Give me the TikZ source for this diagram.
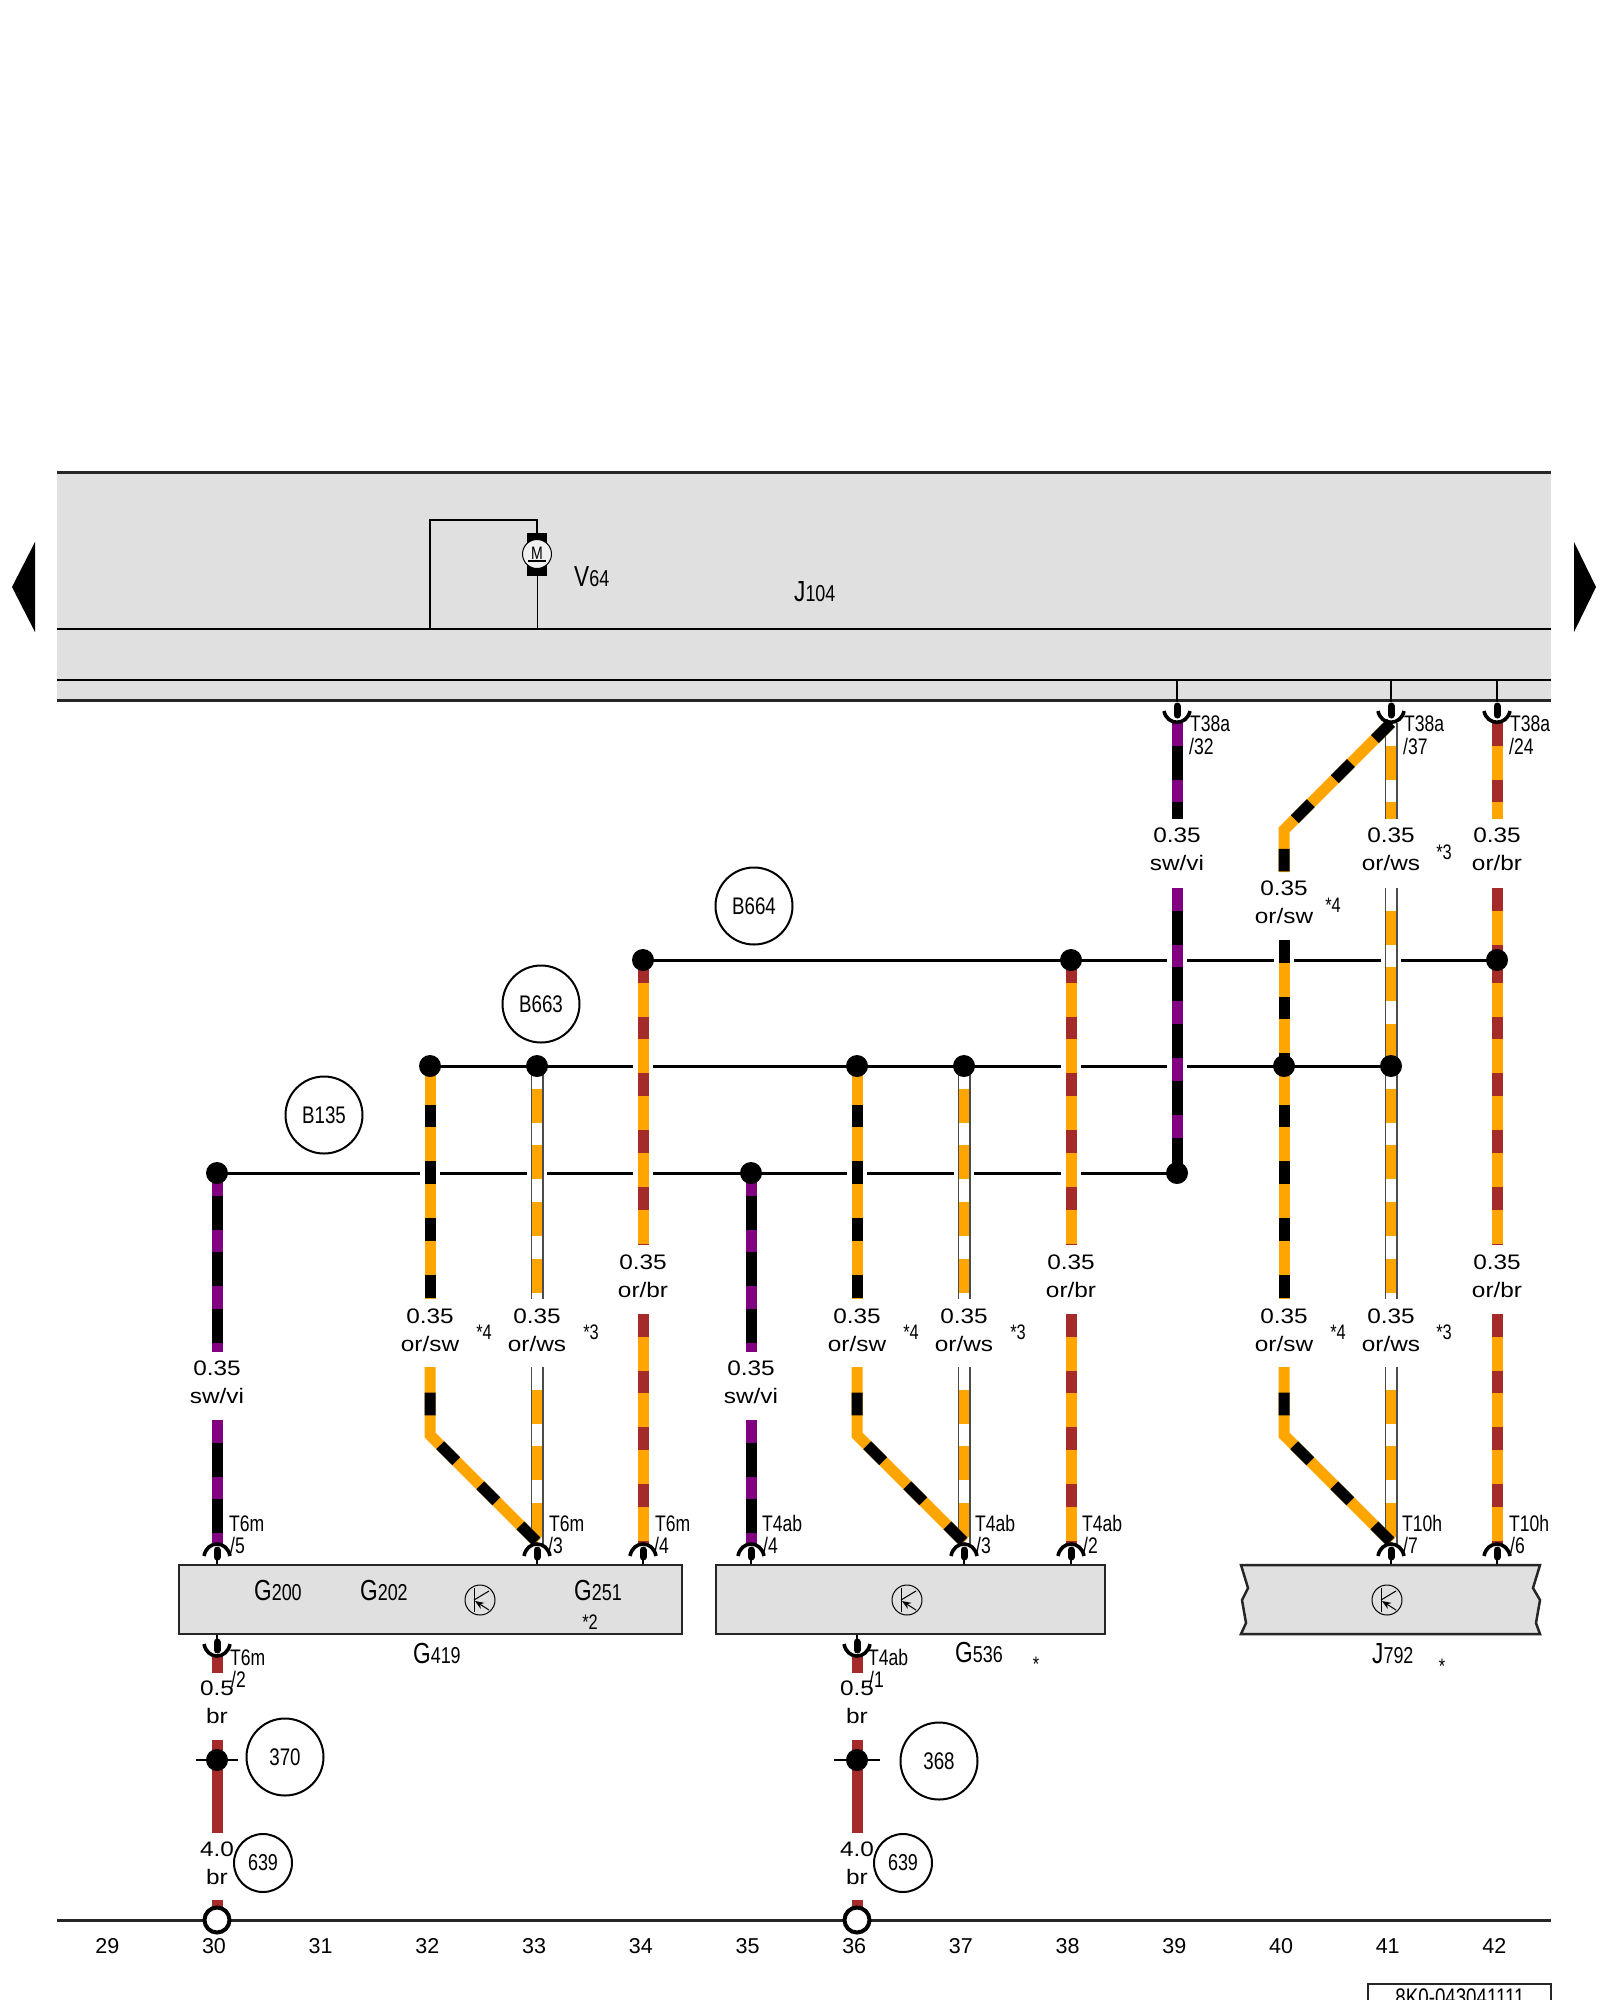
\documentclass[tikz,border=0pt]{standalone}
\usepackage{fontspec}
\setmainfont{Liberation Sans}
\newfontfamily\nf[FakeStretch=0.78]{Liberation Sans}
\newfontfamily\wf[FakeStretch=1.16]{Liberation Sans}
\usetikzlibrary{arrows.meta}
\definecolor{orw}{HTML}{FFA500}
\definecolor{brw}{HTML}{A52A2A}
\definecolor{viw}{HTML}{800080}
\definecolor{grf}{HTML}{E0E0E0}
\newcommand{\fs}[1]{\fontsize{#1}{#1}\selectfont}
% striped wire: path, main colour, stripe colour, phase
\newcommand{\wire}[4]{%
  \draw[line width=11pt,#2,line join=miter] #1;
  \draw[line width=11pt,#3,line join=miter,dash pattern=on 22.7pt off 34pt,dash phase=#4pt] #1;}
% orange/white wire with thin outline
\newcommand{\wireW}[1]{%
  \draw[line width=13pt,black!70] #1;
  \draw[line width=10.8pt,white] #1;
  \draw[line width=10.8pt,orw,dash pattern=on 34pt off 22.7pt,dash phase=-22.7pt] #1;}
\newcommand{\gap}[2]{\fill[white] (#1-10,#2-3) rectangle (#1+10,#2+3);}
% socket under the top frame
\newcommand{\sockT}[1]{%
  \draw[line width=1.5pt] (#1,680) -- (#1,702);
  \draw[line width=7pt,line cap=round] (#1,706) -- (#1,715);
  \draw[line width=3.6pt] (#1-13,711) .. controls (#1-10,726) and (#1+10,726) .. (#1+13,711);}
% socket on the top edge of a box
\newcommand{\sockB}[1]{%
  \draw[line width=2.5pt] (#1,1565) -- (#1,1555);
  \draw[line width=7pt,line cap=round] (#1,1557) -- (#1,1550);
  \draw[line width=3.6pt] (#1-13,1556) .. controls (#1-10,1540) and (#1+10,1540) .. (#1+13,1556);}
% socket on the lower edge of a box
\newcommand{\sockU}[1]{%
  \draw[line width=2.5pt] (#1,1634) -- (#1,1642);
  \draw[line width=7pt,line cap=round] (#1,1642) -- (#1,1650);
  \draw[line width=3.6pt] (#1-13,1644) .. controls (#1-10,1660) and (#1+10,1660) .. (#1+13,1644);}
\newcommand{\tran}[1]{%
  \begin{scope}[shift={(#1,1600)}]
    \draw[line width=1pt] (0,0) circle (15);
    \draw[line width=1pt] (-6,-12) -- (-6,12);
    \draw[line width=1pt] (-6,0) -- (9,-9);
    \draw[line width=1pt,{Stealth[length=9pt,width=7pt]}-] (-5,1) -- (9,10);
  \end{scope}}
\newcommand{\GL}[2]{{\nf\fs{29}#1\fs{23}#2}}
\tikzset{
  bus/.style={line width=3pt},
  junc/.style={circle,fill=black,inner sep=0pt,minimum size=22pt},
  opn/.style={circle,draw=black,fill=white,line width=4pt,inner sep=0pt,minimum size=25pt},
  bub/.style={circle,draw=black,line width=2pt,inner sep=0pt,minimum size=77pt,font=\nf\fs{24}},
  bubs/.style={circle,draw=black,line width=2pt,inner sep=0pt,minimum size=58pt,font=\nf\fs{23}},
  tlab/.style={anchor=base west,inner sep=0pt,font=\nf\fs{22.5}},
  slab/.style={anchor=base,inner sep=0pt,font=\nf\fs{21}},
  wlab/.style={anchor=base,inner sep=0pt,font=\wf\fs{21}},
  glab/.style={anchor=base west,inner sep=0pt},
  nlab/.style={anchor=base,inner sep=0pt,font=\fs{21.5}},
  cbox/.style={draw=black!85,fill=grf,line width=2.5pt,inner sep=0pt},
}
\begin{document}
\begin{tikzpicture}[x=1pt,y=-1pt]
\useasboundingbox (0,0) rectangle (1600,2000);
\clip (0,0) rectangle (1600,2000);

% top frame
\fill[grf] (57,472) rectangle (1551,700);
\draw[line width=3pt,black!85] (57,472) -- (1551,472);
\draw[line width=3pt,black!85] (57,700) -- (1551,700);
\draw[line width=2pt] (57,629) -- (1551,629);
\draw[line width=2pt] (57,680) -- (1551,680);

% page arrows
\fill (35,542) -- (12,587) -- (35,632) -- cycle;
\fill (1574,542) -- (1596,587) -- (1574,632) -- cycle;

% motor
\coordinate (mb) at (537,629);
\coordinate (mt) at (537,520);
\coordinate (ml) at (430,520);
\coordinate (mc) at (430,629);
\node[fill=black,minimum width=20pt,minimum height=43pt,inner sep=0pt] (mbody) at (537,554.5) {};
\node[circle,draw=black,line width=1pt,fill=black!6,minimum size=29pt,inner sep=0pt,font=\nf\fs{18}] (motor) at (537,554) {\raisebox{1.5pt}{M}};
\draw[line width=1.2pt] (528,561) -- (546,561);
\draw[line width=1pt] (mb) -- (mbody.south);
\draw[line width=1.2pt] (mc) -- (ml) -- (mt) -- (mbody.north);
\node[glab] (v64) at (574,586) {\GL{V}{64}};
\node[glab] (j104) at (794,601) {\GL{J}{104}};

% junction positions
\coordinate (jl30) at (217,1173);
\coordinate (jl35) at (751,1173);
\coordinate (jl39) at (1177,1173);
\coordinate (jm32) at (430,1066);
\coordinate (jm33) at (537,1066);
\coordinate (jm36) at (857,1066);
\coordinate (jm37) at (964,1066);
\coordinate (jm40) at (1284,1066);
\coordinate (jm41) at (1391,1066);
\coordinate (ju34) at (643,960);
\coordinate (ju38) at (1071,960);
\coordinate (ju42) at (1497,960);

% buses
\draw[bus] (jl30) -- (jl39);
\draw[bus] (jm32) -- (jm41);
\draw[bus] (ju34) -- (ju42);
\gap{430}{1173}\gap{537}{1173}\gap{643}{1173}\gap{857}{1173}\gap{964}{1173}\gap{1071}{1173}
\gap{643}{1066}\gap{1071}{1066}\gap{1177}{1066}
\gap{1177}{960}\gap{1284}{960}\gap{1391}{960}

% wires, upper part
\wire{(1177,723) -- (1177,819)}{black}{viw}{0}
\wire{(1177,888) -- (jl39)}{black}{viw}{0}
\wireW{(1391,723) -- (1391,819)}
\wireW{(1391,888) -- (jm41)}
\wire{(1391,723) -- (1284,830) -- (1284,872)}{orw}{black}{0}
\wire{(1284,940) -- (jm40)}{orw}{black}{0}
\wire{(1497,723) -- (1497,819)}{orw}{brw}{0}
\wire{(1497,888) -- (ju42)}{orw}{brw}{0}
% wires from junctions
\wire{(jl30) -- (217,1352)}{black}{viw}{0}
\wire{(jm32) -- (430,1299)}{orw}{black}{18}
\wireW{(jm33) -- (537,1299)}
\wire{(ju34) -- (643,1245)}{orw}{brw}{0}
\wire{(jl35) -- (751,1352)}{black}{viw}{0}
\wire{(jm36) -- (857,1299)}{orw}{black}{18}
\wireW{(jm37) -- (964,1299)}
\wire{(ju38) -- (1071,1245)}{orw}{brw}{0}
\wire{(jm40) -- (1284,1299)}{orw}{black}{18}
\wireW{(jm41) -- (1391,1299)}
\wire{(ju42) -- (1497,1245)}{orw}{brw}{0}
% wires to the boxes
\wire{(217,1420) -- (217,1545)}{black}{viw}{0}
\wireW{(537,1367) -- (537,1545)}
\wire{(430,1367) -- (430,1435) -- (537,1542)}{orw}{black}{31}
\wire{(643,1314) -- (643,1545)}{orw}{brw}{0}
\wire{(751,1420) -- (751,1545)}{black}{viw}{0}
\wireW{(964,1367) -- (964,1545)}
\wire{(857,1367) -- (857,1435) -- (964,1542)}{orw}{black}{31}
\wire{(1071,1314) -- (1071,1545)}{orw}{brw}{0}
\wireW{(1391,1367) -- (1391,1545)}
\wire{(1284,1367) -- (1284,1435) -- (1391,1542)}{orw}{black}{31}
\wire{(1497,1314) -- (1497,1545)}{orw}{brw}{0}

% earth wires
\coordinate (g30) at (217,1920);
\coordinate (g36) at (857,1920);
\foreach \x in {217,857}{
  \draw[line width=11pt,brw] (\x,1656) -- (\x,1673);
  \draw[line width=11pt,brw] (\x,1740) -- (\x,1833);
  \draw[line width=11pt,brw] (\x,1900) -- (\x,1920);
}
\draw[line width=3pt,black!85] (57,1920) -- (1551,1920);

% junction dots
\foreach \n in {jl30,jl35,jl39,jm32,jm33,jm36,jm37,jm40,jm41,ju34,ju38,ju42}{
  \node[junc] (dot\n) at (\n) {};
}
\node[junc] (e30) at (217,1760) {};
\node[junc] (e36) at (857,1760) {};
\draw[line width=2.5pt] (196,1760) -- (238,1760);
\draw[line width=2.5pt] (834,1760) -- (880,1760);
\node[opn] (o30) at (g30) {};
\node[opn] (o36) at (g36) {};

% sockets
\sockT{1177}\sockT{1391}\sockT{1497}
\foreach \x in {217,537,643,751,964,1071,1391,1497}{\sockB{\x}}
\sockU{217}\sockU{857}

% boxes
\node[cbox,outer sep=0pt,minimum width=503pt,minimum height=69pt] (g419) at (430.5,1599.5) {};
\node[cbox,outer sep=0pt,minimum width=389pt,minimum height=69pt] (g536) at (910.5,1599.5) {};
\draw[cbox] (1241,1565) -- (1540,1565) -- (1533,1588) -- (1540,1600) -- (1536,1623) -- (1540,1634)
  -- (1241,1634) -- (1246,1623) -- (1242,1600) -- (1248,1588) -- cycle;
\tran{480}\tran{907}\tran{1387}
\node[glab] (g200) at (254,1600) {\GL{G}{200}};
\node[glab] (g202) at (360,1600) {\GL{G}{202}};
\node[glab] (g251) at (574,1600) {\GL{G}{251}};
\node[slab] (st2) at (590,1629) {*2};
\node[glab] (l419) at (413,1663) {\GL{G}{419}};
\node[glab] (l536) at (955,1662) {\GL{G}{536}};
\node[glab] (l792) at (1372,1663) {\GL{J}{792}};
\node[slab] (sta) at (1036,1671) {*};
\node[slab] (stb) at (1442,1673) {*};

% socket labels
\node[tlab] (t32) at (1190,731) {T38a};
\node[tlab] (p32) at (1189,754) {/32};
\node[tlab] (t37) at (1404,731) {T38a};
\node[tlab] (p37) at (1403,754) {/37};
\node[tlab] (t24) at (1510,731) {T38a};
\node[tlab] (p24) at (1509,754) {/24};
\node[tlab] (t5) at (229,1531) {T6m};
\node[tlab] (p5) at (230,1553) {/5};
\node[tlab] (t3) at (549,1531) {T6m};
\node[tlab] (p3) at (548,1553) {/3};
\node[tlab] (t4) at (655,1531) {T6m};
\node[tlab] (p4) at (654,1553) {/4};
\node[tlab] (u4) at (762,1531) {T4ab};
\node[tlab] (q4) at (763,1553) {/4};
\node[tlab] (u3) at (975,1531) {T4ab};
\node[tlab] (q3) at (976,1553) {/3};
\node[tlab] (u2) at (1082,1531) {T4ab};
\node[tlab] (q2) at (1083,1553) {/2};
\node[tlab] (h7) at (1402,1531) {T10h};
\node[tlab] (r7) at (1403,1553) {/7};
\node[tlab] (h6) at (1509,1531) {T10h};
\node[tlab] (r6) at (1510,1553) {/6};
\node[tlab] (t2) at (230,1665) {T6m};
\node[tlab] (p2) at (231,1687) {/2};
\node[tlab] (u1) at (868,1665) {T4ab};
\node[tlab] (q1) at (869,1687) {/1};

% wire labels
\foreach \id/\x/\y/\a/\b in {
  a/1177/842/0.35/sw\slash vi,
  b/1391/842/0.35/or\slash ws,
  c/1497/842/0.35/or\slash br,
  d/1284/895/0.35/or\slash sw,
  e/217/1375/0.35/sw\slash vi,
  f/430/1323/0.35/or\slash sw,
  g/537/1323/0.35/or\slash ws,
  h/643/1269/0.35/or\slash br,
  i/751/1375/0.35/sw\slash vi,
  j/857/1323/0.35/or\slash sw,
  k/964/1323/0.35/or\slash ws,
  m/1071/1269/0.35/or\slash br,
  n/1284/1323/0.35/or\slash sw,
  o/1391/1323/0.35/or\slash ws,
  p/1497/1269/0.35/or\slash br,
  q/217/1695/0.5/br,
  r/857/1695/0.5/br,
  s/217/1856/4.0/br,
  t/857/1856/4.0/br}{
  \node[wlab] (w\id a) at (\x,\y) {\a};
  \node[wlab] (w\id b) at (\x,\y+28.5) {\b};
}
% star notes
\node[slab] (s1) at (1444,859) {*3};
\node[slab] (s2) at (1333,912) {*4};
\foreach \n/\x/\t in {s3/484/*4,s4/591/*3,s5/911/*4,s6/1018/*3,s7/1338/*4,s8/1444/*3}{
  \node[slab] (\n) at (\x,1339) {\t};
}

% bubbles
\node[bub] (b135) at (324,1115) {B135};
\node[bub] (b663) at (541,1004) {B663};
\node[bub] (b664) at (754,906) {B664};
\node[bub] (c370) at (285,1757) {370};
\node[bub] (c368) at (939,1761) {368};
\node[bubs] (c639a) at (263,1863) {639};
\node[bubs] (c639b) at (903,1863) {639};

% column numbers
\foreach \n in {29,...,42}{
  \node[nlab] (n\n) at ({214+106.7*(\n-30)},1953) {\n};
}

% drawing number
\node[draw=black!85,line width=2.5pt,outer sep=0pt,anchor=north west,minimum width=183pt,minimum height=40pt,inner sep=0pt] (dn) at (1368,1984) {};
\node[anchor=base,inner sep=0pt,font=\nf\fs{24}] (dnt) at (1460,2005) {8K0-043041111};
\end{tikzpicture}
\end{document}
